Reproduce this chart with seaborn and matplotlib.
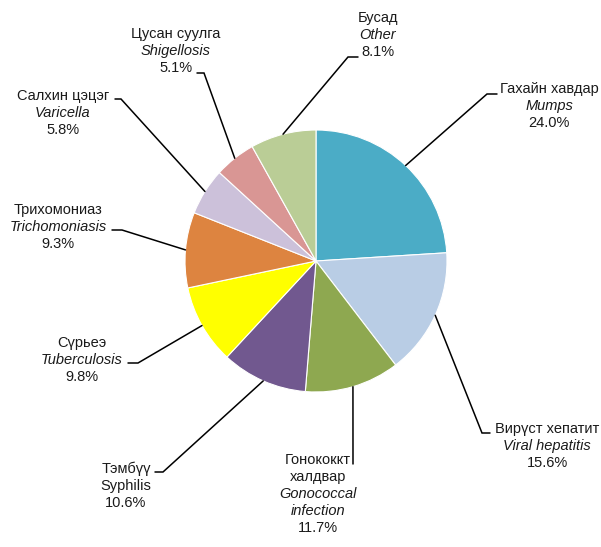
import matplotlib
matplotlib.use("Agg")
import matplotlib.pyplot as plt
import numpy as np
import seaborn as sns

# slice data, clockwise from 12 o'clock
names_mn = ["Гахайн хавдар", "Вирүст хепатит", "Гонококкт\nхалдвар", "Тэмбүү",
            "Сүрьеэ", "Трихомониаз", "Салхин цэцэг", "Цусан суулга", "Бусад"]
names_en = ["Mumps", "Viral hepatitis", "Gonococcal\ninfection", "Syphilis",
            "Tuberculosis", "Trichomoniasis", "Varicella", "Shigellosis", "Other"]
shares = [24.0, 15.6, 11.7, 10.6, 9.8, 9.3, 5.8, 5.1, 8.1]
colors = ["#4BACC6", "#B9CDE5", "#8EA850", "#71588F", "#FFFF00",
          "#DD8440", "#CCC1DA", "#D99694", "#BACD96"]
# english line in italics except Syphilis
italic_en = [True, True, True, False, True, True, True, True, True]

# label layout in pixels: text centre x, first-line y, elbow, stub end
CX, CY, R = 316, 261, 131
text_pos = [(549, 89), (547, 429), (318, 460), (126, 469), (82, 343),
            (58, 210), (63, 96), (176, 34), (378, 18)]
elbows = [(487, 94), (482, 433), (353, 464), (163, 472), (138, 363),
          (122, 230), (121, 99), (204, 73), (348, 57)]
stubs = [(497, 94), (490, 433), (353, 464), (155, 472), (128, 363),
         (112, 230), (115, 99), (197, 73), (358, 57)]


def px(x, y):
    return (x - CX) / R, (CY - y) / R


sns.set_theme(style="white")
plt.rcParams["font.family"] = ["Liberation Sans", "DejaVu Sans"]

fig = plt.figure(figsize=(6.01, 5.47), dpi=100)
ax = fig.add_axes([0, 0, 1, 1])

wedges, _ = ax.pie(shares, colors=colors, startangle=90, counterclock=False,
                   radius=1, wedgeprops=dict(edgecolor="white", linewidth=0.8))
ax.set_xlim(-CX / R, (601 - CX) / R)
ax.set_ylim(-(547 - CY) / R, CY / R)
ax.set_aspect("equal")
ax.axis("off")

line_h = 17 / R
for i, w in enumerate(wedges):
    mid = np.deg2rad((w.theta1 + w.theta2) / 2)
    ex, ey = np.cos(mid), np.sin(mid)
    bx, by = px(*elbows[i])
    sx, sy = px(*stubs[i])
    ax.plot([ex, bx, sx], [ey, by, sy], color="black", lw=1.1,
            solid_joinstyle="miter")

    tx, ty = px(*text_pos[i])
    lines = []
    for s in names_mn[i].split("\n"):
        lines.append((s, "normal"))
    for s in names_en[i].split("\n"):
        lines.append((s, "italic" if italic_en[i] else "normal"))
    lines.append((f"{shares[i]:.1f}%", "normal"))
    for k, (s, style) in enumerate(lines):
        ax.text(tx, ty - k * line_h, s, ha="center", va="center",
                fontsize=10.5, style=style, color="#1a1a1a")

fig.savefig("out.png", dpi=100)
